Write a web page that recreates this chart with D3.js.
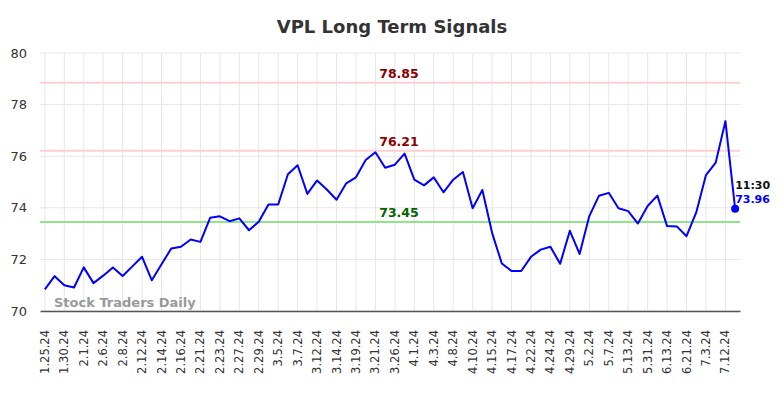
<!DOCTYPE html>
<html>
<head>
<meta charset="utf-8">
<script src="https://cdn.jsdelivr.net/npm/d3@7"></script>
<style>
  body { margin: 0; background: #fff; font-family: "DejaVu Sans", sans-serif; }
</style>
</head>
<body>
<script>
const dates = [
  '1.25.24', '1.26.24', '1.30.24', '1.31.24', '2.1.24', '2.5.24', '2.6.24', '2.7.24', '2.8.24', '2.9.24',
  '2.12.24', '2.13.24', '2.14.24', '2.15.24', '2.16.24', '2.20.24', '2.21.24', '2.22.24', '2.23.24', '2.26.24',
  '2.27.24', '2.28.24', '2.29.24', '3.1.24', '3.5.24', '3.6.24', '3.7.24', '3.8.24', '3.12.24', '3.13.24',
  '3.14.24', '3.15.24', '3.19.24', '3.20.24', '3.21.24', '3.22.24', '3.26.24', '3.27.24', '4.1.24', '4.2.24',
  '4.3.24', '4.4.24', '4.8.24', '4.9.24', '4.10.24', '4.11.24', '4.15.24', '4.16.24', '4.17.24', '4.18.24',
  '4.22.24', '4.23.24', '4.24.24', '4.25.24', '4.29.24', '4.30.24', '5.2.24', '5.3.24', '5.7.24', '5.8.24',
  '5.13.24', '5.20.24', '5.31.24', '6.6.24', '6.13.24', '6.18.24', '6.21.24', '6.27.24', '7.3.24', '7.9.24',
  '7.12.24', '7.15.24'
];

const prices = [
  70.84, 71.35, 71.00, 70.91, 71.69, 71.08, 71.37, 71.69, 71.36, 71.73,
  72.10, 71.19, 71.81, 72.42, 72.49, 72.77, 72.68, 73.61, 73.67, 73.48,
  73.59, 73.13, 73.46, 74.13, 74.13, 75.30, 75.65, 74.54, 75.06, 74.71,
  74.31, 74.95, 75.18, 75.85, 76.15, 75.55, 75.67, 76.10, 75.09, 74.87,
  75.18, 74.60, 75.09, 75.39, 73.98, 74.69, 73.03, 71.84, 71.55, 71.55,
  72.10, 72.38, 72.49, 71.83, 73.11, 72.21, 73.68, 74.47, 74.58, 73.98,
  73.87, 73.39, 74.07, 74.47, 73.29, 73.28, 72.90, 73.82, 75.27, 75.75,
  77.36, 73.96
];

const tickLabels = [
  '1.25.24', '1.30.24', '2.1.24', '2.6.24', '2.8.24', '2.12.24', '2.14.24', '2.16.24', '2.21.24', '2.23.24',
  '2.27.24', '2.29.24', '3.5.24', '3.7.24', '3.12.24', '3.14.24', '3.19.24', '3.21.24', '3.26.24', '4.1.24',
  '4.3.24', '4.8.24', '4.10.24', '4.15.24', '4.17.24', '4.22.24', '4.24.24', '4.29.24', '5.2.24', '5.7.24',
  '5.13.24', '5.31.24', '6.13.24', '6.21.24', '7.3.24', '7.12.24'
];

const yTicks = [70, 72, 74, 76, 78, 80];

const signalValues = [78.85, 76.21, 73.45];
const signalLabels = ['78.85', '76.21', '73.45'];
const signalKinds = ['resistance', 'resistance', 'support'];

const lastTime = '11:30';
const lastLabel = '73.96';

// Chart dimensions
const w = 784;
const h = 398;
const margin = { top: 53, right: 44, bottom: 87, left: 40 };

const svg = d3.select('body')
  .append('svg')
  .attr('width', w)
  .attr('height', h);

// Scaling
const xScale = d3.scaleBand()
  .domain(dates)
  .range([margin.left, w - margin.right]);

const xPos = d => xScale(d) + xScale.bandwidth() / 2;

const yScale = d3.scaleLinear()
  .domain([70, 80])
  .range([h - margin.bottom, margin.top]);

// Grid
svg.append('g')
  .selectAll('line')
  .data(yTicks)
  .enter()
  .append('line')
  .attr('x1', margin.left)
  .attr('x2', w - margin.right)
  .attr('y1', d => yScale(d))
  .attr('y2', d => yScale(d))
  .attr('stroke', '#e6e6e6')
  .attr('stroke-width', 1);

svg.append('g')
  .selectAll('line')
  .data(tickLabels)
  .enter()
  .append('line')
  .attr('x1', d => xPos(d))
  .attr('x2', d => xPos(d))
  .attr('y1', margin.top)
  .attr('y2', h - margin.bottom)
  .attr('stroke', '#e6e6e6')
  .attr('stroke-width', 1);

// Y axis
const yAxis = d3.axisLeft(yScale)
  .tickValues(yTicks)
  .tickSize(0)
  .tickPadding(13);

const gy = svg.append('g')
  .attr('transform', `translate(${margin.left}, 0)`)
  .call(yAxis);
gy.select('.domain').remove();
gy.selectAll('text')
  .attr('fill', '#333')
  .style('font-family', '"DejaVu Sans", sans-serif')
  .style('font-size', '13px');

// X axis
const xAxis = d3.axisBottom(xScale)
  .tickValues(tickLabels)
  .tickSize(0)
  .tickPadding(0);

const gx = svg.append('g')
  .attr('transform', `translate(0, ${h - margin.bottom})`)
  .call(xAxis);
gx.select('.domain')
  .attr('stroke', '#555')
  .attr('stroke-width', 1.5);
gx.selectAll('text')
  .attr('fill', '#333')
  .attr('text-anchor', 'end')
  .attr('dy', '0.35em')
  .attr('transform', 'translate(0, 19) rotate(-90)')
  .attr('x', 0)
  .attr('y', 0)
  .style('font-family', '"DejaVu Sans", sans-serif')
  .style('font-size', '11.5px');

// Signal lines
svg.append('g')
  .selectAll('line')
  .data(signalValues)
  .enter()
  .append('line')
  .attr('x1', margin.left)
  .attr('x2', w - margin.right)
  .attr('y1', d => yScale(d))
  .attr('y2', d => yScale(d))
  .attr('stroke', (d, i) => (signalKinds[i] === 'support' ? '#90e58a' : '#ffcfcf'))
  .attr('stroke-width', 2);

svg.append('g')
  .selectAll('text')
  .data(signalValues)
  .enter()
  .append('text')
  .attr('x', 399)
  .attr('y', d => yScale(d) - 5)
  .attr('text-anchor', 'middle')
  .attr('fill', (d, i) => (signalKinds[i] === 'support' ? '#006400' : '#8b0000'))
  .style('font-family', '"DejaVu Sans", sans-serif')
  .style('font-size', '12.5px')
  .style('font-weight', 'bold')
  .text((d, i) => signalLabels[i]);

// Watermark
svg.append('text')
  .attr('x', 54)
  .attr('y', 307)
  .attr('fill', '#999')
  .style('font-family', '"DejaVu Sans", sans-serif')
  .style('font-size', '13px')
  .style('font-weight', 'bold')
  .text('Stock Traders Daily');

// Price line
const line = d3.line()
  .x((d, i) => xPos(dates[i]))
  .y(d => yScale(d));

svg.append('path')
  .datum(prices)
  .attr('d', line)
  .attr('fill', 'none')
  .attr('stroke', '#0000ff')
  .attr('stroke-width', 2)
  .attr('stroke-linejoin', 'round');

// Last point
const lastIdx = prices.length - 1;
const lx = xPos(dates[lastIdx]);
const ly = yScale(prices[lastIdx]);

svg.append('circle')
  .attr('cx', lx)
  .attr('cy', ly)
  .attr('r', 4)
  .attr('fill', '#0000ff');

svg.append('text')
  .attr('x', lx)
  .attr('y', ly - 20)
  .attr('fill', '#111')
  .style('font-family', '"DejaVu Sans", sans-serif')
  .style('font-size', '11px')
  .style('font-weight', 'bold')
  .text(lastTime);

svg.append('text')
  .attr('x', lx)
  .attr('y', ly - 6)
  .attr('fill', '#0000ff')
  .style('font-family', '"DejaVu Sans", sans-serif')
  .style('font-size', '11px')
  .style('font-weight', 'bold')
  .text(lastLabel);

// Title
svg.append('text')
  .attr('x', w / 2)
  .attr('y', 33)
  .attr('text-anchor', 'middle')
  .attr('fill', '#333')
  .style('font-family', '"DejaVu Sans", sans-serif')
  .style('font-size', '18px')
  .style('font-weight', 'bold')
  .text('VPL Long Term Signals');
</script>
</body>
</html>
